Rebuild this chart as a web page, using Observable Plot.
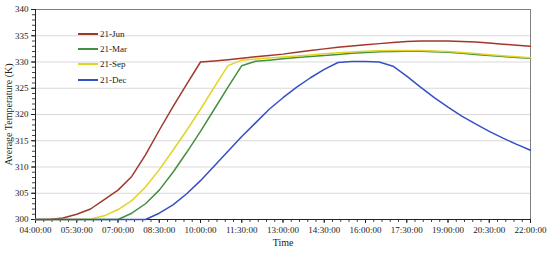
<!DOCTYPE html>
<html><head><meta charset="utf-8">
<script src="https://cdn.jsdelivr.net/npm/d3@7"></script>
<script src="https://cdn.jsdelivr.net/npm/@observablehq/plot@0.6"></script>
<style>
body{margin:0;background:#fff;}
#wrap{position:relative;width:550px;height:253px;font-family:"Liberation Serif","Times New Roman",serif;}
#chart svg, #chart svg text{font-family:"Liberation Serif","Times New Roman",serif !important;}
#legend{position:absolute;left:78px;top:26px;font-size:9px;color:#222;}
#legend .row{display:flex;align-items:center;height:15.3px;}
#legend .sw{width:20px;height:2px;margin-right:2px;}
</style></head><body>
<div id="wrap"><div id="chart"></div><div id="legend"></div></div>
<script>
const hours = [4,4.5,5,5.5,6,6.5,7,7.5,8,8.5,9,9.5,10,10.5,11,11.5,12,12.5,13,13.5,14,14.5,15,15.5,16,16.5,17,17.5,18,18.5,19,19.5,20,20.5,21,21.5,22];
const seriesNames = ["21-Jun","21-Mar","21-Sep","21-Dec"];
const seriesColors = ["#a0382a","#43903f","#e3d424","#3550c4"];
const jun = [300,300,300.3,301.0,302.0,303.8,305.6,308.2,312.3,317.0,321.5,325.8,330.0,330.2,330.45,330.7,331.0,331.25,331.5,331.85,332.2,332.5,332.8,333.05,333.3,333.5,333.7,333.9,334.0,334.0,334.0,333.9,333.8,333.6,333.4,333.2,333.0];
const mar = [300,300,300,300,300,300,300,301.2,303.0,305.6,309.0,312.8,316.8,321.0,325.2,329.3,330.15,330.35,330.6,330.85,331.05,331.25,331.45,331.65,331.8,331.95,332.0,332.05,332.05,331.95,331.85,331.65,331.45,331.25,331.05,330.85,330.7];
const sep = [300,300,300,300,300.1,300.7,301.9,303.6,306.2,309.5,313.2,317.0,321.0,325.2,329.3,330.35,330.55,330.75,330.95,331.15,331.35,331.55,331.75,331.9,332.05,332.15,332.2,332.2,332.2,332.1,332.0,331.8,331.6,331.4,331.2,331.0,330.8];
const dec = [300,300,300,300,300,300,300,300,300,301.2,302.8,304.9,307.4,310.2,313.0,315.8,318.4,321.0,323.2,325.2,327.0,328.6,329.9,330.1,330.1,330.0,329.2,327.3,325.2,323.2,321.4,319.7,318.2,316.8,315.5,314.3,313.2];
const yTicks = [300,305,310,315,320,325,330,335,340];
const xTicks = [4,5.5,7,8.5,10,11.5,13,14.5,16,17.5,19,20.5,22];

const allSeries = [jun, mar, sep, dec];
const data = [];
allSeries.forEach((vals, i) => vals.forEach((v, j) => data.push({series: seriesNames[i], t: hours[j], v})));
const fmt = h => { const hh = Math.floor(h), mm = Math.round((h - hh) * 60); return String(hh).padStart(2,"0") + ":" + String(mm).padStart(2,"0") + ":00"; };
const minorX = d3.range(0, 61).map(i => 4 + i * 0.3).filter(v => v <= 22.001);
const minorY = d3.range(300, 341);

const chart = Plot.plot({
  width: 550, height: 253,
  marginLeft: 35, marginRight: 20, marginTop: 9, marginBottom: 34,
  style: {fontFamily: "Liberation Serif, serif", fontSize: "9px", color: "#222", background: "#fff"},
  x: {domain: [4, 22]},
  y: {domain: [300, 340]},
  color: {domain: seriesNames, range: seriesColors},
  marks: [
    Plot.ruleY(yTicks.slice(1, -1), {stroke: "#d9d9d9", strokeWidth: 1}),
    Plot.frame({stroke: "#808080", strokeWidth: 1}),
    Plot.axisY(minorY, {tickSize: 3, text: null, label: null, stroke: "#444"}),
    Plot.axisY(yTicks, {tickSize: 4, tickPadding: 3, label: null, fontSize: 9}),
    Plot.text(["Average Temperature (K)"], {frameAnchor: "left", textAnchor: "middle", dx: -27, rotate: -90, fontSize: 10, fill: "#222"}),
    Plot.axisX(minorX, {tickSize: 3, text: null, label: null, stroke: "#444"}),
    Plot.axisX(xTicks, {tickSize: 4, tickPadding: 3, tickFormat: fmt, label: null, fontSize: 9}),
    Plot.text(["Time"], {frameAnchor: "bottom", dy: 26, fontSize: 10, fill: "#222"}),
    Plot.ruleX([4], {stroke: "#222"}),
    Plot.ruleY([300], {stroke: "#222"}),
    Plot.line(data, {x: "t", y: "v", z: "series", stroke: "series", strokeWidth: 1.5})
  ]
});
document.getElementById("chart").appendChild(chart);

const legend = document.getElementById("legend");
seriesNames.forEach((n, i) => {
  const row = document.createElement("div"); row.className = "row";
  const sw = document.createElement("div"); sw.className = "sw"; sw.style.background = seriesColors[i];
  const tx = document.createElement("span"); tx.textContent = n;
  row.appendChild(sw); row.appendChild(tx); legend.appendChild(row);
});
</script>
</body></html>
